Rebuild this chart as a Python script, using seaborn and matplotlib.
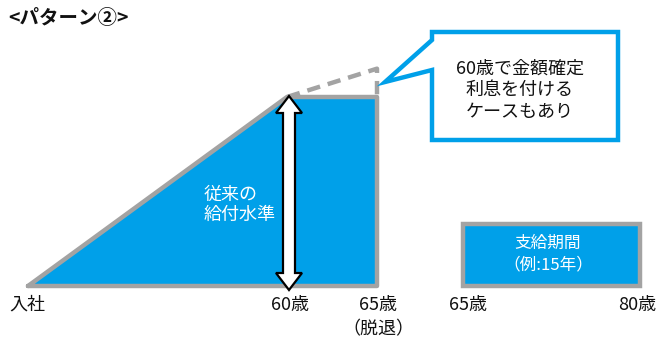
import matplotlib
matplotlib.use("Agg")
import matplotlib.pyplot as plt
from matplotlib.patches import Polygon, Rectangle
import pandas as pd
import seaborn as sns

# --- chart content -------------------------------------------------------
title = "<パターン②>"
accrual_labels = ["入社", "60歳", "65歳"]
accrual_level = [0.0, 1.0, 1.0]          # benefit level reached at each stage
fixed_rate_level = [1.0, 1.15]           # level at 60 / 65 when interest is credited
inner_label = "従来の\n給付水準"
retire_note = "（脱退）"
payout_labels = ["65歳", "80歳"]
payout_text = "支給期間\n（例:15年）"
callout_text = "60歳で金額確定\n利息を付ける\nケースもあり"

# --- layout (figure pixels) ----------------------------------------------
W, H = 661, 338
stage_x = [28, 287, 377]
label_x = [27, 290, 378]
base_y, level_h = 286, 189
payout_x = [463, 640]
payout_label_x = [468, 637]
payout_top = 224
label_y = 305

BLUE = "#00A0E9"
GRAY = "#A3A3A3"
INK = "#111111"

sns.set_theme(style="white")
plt.rcParams["font.family"] = ["Noto Sans CJK JP", "DejaVu Sans"]

fig = plt.figure(figsize=(W / 100, H / 100), dpi=100)
ax = fig.add_axes([0, 0, 1, 1])
ax.set_xlim(0, W)
ax.set_ylim(H, 0)
ax.axis("off")


def ypix(level):
    return base_y - level * level_h


# accrual area: rises until 60, flat until 65
acc_y = [ypix(v) for v in accrual_level]
outline = pd.DataFrame({
    "x": stage_x + [stage_x[-1], stage_x[0]],
    "y": acc_y + [base_y, base_y],
})
ax.fill(outline["x"], outline["y"], color=BLUE, zorder=1)
sns.lineplot(data=outline, x="x", y="y", sort=False, color=GRAY, lw=3.2,
             ax=ax, zorder=2, estimator=None)

# dashed extension when interest keeps accruing after 60
ext = pd.DataFrame({
    "x": [stage_x[1], stage_x[2], stage_x[2]],
    "y": [ypix(fixed_rate_level[0]), ypix(fixed_rate_level[1]), ypix(accrual_level[2])],
})
sns.lineplot(data=ext, x="x", y="y", sort=False, color=GRAY, lw=3.2,
             linestyle=(0, (3.0, 1.8)), ax=ax, zorder=2, estimator=None)

# double-headed arrow marking the benefit level at 60
cx = stage_x[1] + 2
top, bot = ypix(accrual_level[1]) - 1, base_y + 4
hw, sw, hl = 13, 6, 17
arrow = Polygon([
    (cx, top), (cx + hw, top + hl), (cx + sw, top + hl), (cx + sw, bot - hl),
    (cx + hw, bot - hl), (cx, bot), (cx - hw, bot - hl), (cx - sw, bot - hl),
    (cx - sw, top + hl), (cx - hw, top + hl)],
    closed=True, facecolor="white", edgecolor="black", lw=1.6, zorder=4,
    joinstyle="miter")
ax.add_patch(arrow)

ax.text(204, 205, inner_label, color="white", fontsize=13, ha="left",
        va="center", linespacing=1.2, zorder=5)

# payout period box
ax.add_patch(Rectangle((payout_x[0], payout_top), payout_x[1] - payout_x[0],
                       base_y - payout_top, facecolor=BLUE, edgecolor=GRAY,
                       lw=3.2, zorder=2))
ax.text(548, 254, payout_text, color="white", fontsize=12, ha="center",
        va="center", linespacing=1.3, zorder=5)

# speech bubble
bubble = Polygon([(432, 32), (618, 32), (618, 140), (432, 140), (432, 70),
                  (385, 82), (432, 40)], closed=True, facecolor="white",
                 edgecolor=BLUE, lw=3.2, zorder=3, joinstyle="miter")
ax.add_patch(bubble)
ax.text(520, 90, callout_text, fontsize=13, ha="center", va="center",
        linespacing=1.25, color=INK, zorder=5)

# axis labels
for lab, x in zip(accrual_labels, label_x):
    ax.text(x, label_y, lab, fontsize=13, ha="center", va="center", color=INK)
ax.text(378, 329, retire_note, fontsize=13, ha="center", va="center", color=INK)
for lab, x in zip(payout_labels, payout_label_x):
    ax.text(x, label_y, lab, fontsize=13, ha="center", va="center", color=INK)

ax.text(8, 18, title, fontsize=14, fontweight="bold", ha="left", va="center",
        color=INK)

fig.savefig("out.png", dpi=100)
